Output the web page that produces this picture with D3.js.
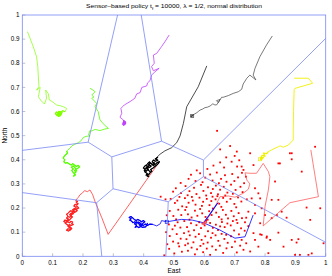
<!DOCTYPE html>
<html><head><meta charset="utf-8">
<script src="https://cdn.jsdelivr.net/npm/d3@7"></script>
<style>
html,body{margin:0;padding:0;background:#fff;}
svg{display:block;font-family:"Liberation Sans",Arial,Helvetica,sans-serif;}
</style></head>
<body><svg id="c" width="332" height="276"></svg>
<script>
// ---- data ----
const xTicks = [0,0.1,0.2,0.3,0.4,0.5,0.6,0.7,0.8,0.9,1];
const yTicks = [0,0.1,0.2,0.3,0.4,0.5,0.6,0.7,0.8,0.9,1];
const xTickLabels = ["0","0.1","0.2","0.3","0.4","0.5","0.6","0.7","0.8","0.9","1"];
const yTickLabels = ["0","0.1","0.2","0.3","0.4","0.5","0.6","0.7","0.8","0.9","1"];

const voronoiEdges = [
 [[0,0.439],[0.217,0.473]],
 [[0.217,0.473],[0.314,1]],
 [[0.217,0.473],[0.295,0.412]],
 [[0.295,0.412],[0.459,0.477]],
 [[0.459,0.477],[0.392,1]],
 [[0.459,0.477],[0.597,0.399]],
 [[0.597,0.399],[1,0.903]],
 [[0.597,0.399],[0.597,0.330]],
 [[0.295,0.412],[0.299,0.280]],
 [[0.299,0.280],[0.245,0.222]],
 [[0,0.264],[0.245,0.222]],
 [[0.245,0.222],[0.262,0]],
 [[0.299,0.280],[0.481,0.226]],
 [[0.481,0.226],[0.473,0]],
 [[0.481,0.226],[0.597,0.330]],
 [[0.597,0.330],[1,0.058]]
];

const green1Path = [[0.017,0.931],[0.036,0.869],[0.047,0.827],[0.051,0.786],[0.053,0.744],[0.055,0.703],[0.047,0.689],[0.059,0.700],[0.053,0.661],[0.062,0.645],[0.073,0.631],[0.080,0.655],[0.077,0.689],[0.086,0.673],[0.089,0.648],[0.099,0.641],[0.113,0.627],[0.125,0.624],[0.135,0.620],[0.146,0.613],[0.141,0.599],[0.133,0.603],[0.127,0.597],[0.121,0.601],[0.116,0.595],[0.122,0.590],[0.117,0.584],[0.124,0.586],[0.129,0.592],[0.126,0.583],[0.119,0.580],[0.113,0.588],[0.118,0.593],[0.112,0.598],[0.109,0.590],[0.115,0.583],[0.122,0.594],[0.128,0.588],[0.131,0.596],[0.125,0.599],[0.119,0.589]];
const green2Path = [[0.223,0.696],[0.232,0.690],[0.240,0.682],[0.229,0.668],[0.236,0.660],[0.229,0.655],[0.245,0.634],[0.240,0.620],[0.250,0.600],[0.256,0.565],[0.270,0.545],[0.284,0.530],[0.270,0.527],[0.256,0.521],[0.240,0.526],[0.228,0.519],[0.223,0.521],[0.218,0.503],[0.223,0.499],[0.210,0.497],[0.201,0.492],[0.193,0.478],[0.185,0.471],[0.172,0.464],[0.163,0.457],[0.157,0.448],[0.150,0.440],[0.146,0.436],[0.149,0.428],[0.143,0.421],[0.138,0.414],[0.135,0.407],[0.140,0.400],[0.137,0.392],[0.142,0.386],[0.149,0.388],[0.155,0.383],[0.161,0.378],[0.166,0.384],[0.172,0.378],[0.178,0.372],[0.184,0.377],[0.189,0.371],[0.183,0.365],[0.177,0.361],[0.172,0.355],[0.177,0.349],[0.171,0.343],[0.175,0.337],[0.169,0.332],[0.173,0.341],[0.167,0.348],[0.163,0.356],[0.168,0.362],[0.162,0.369],[0.167,0.375],[0.173,0.368],[0.179,0.356],[0.174,0.346]];
const magentaPath = [[0.484,0.917],[0.470,0.889],[0.459,0.869],[0.443,0.841],[0.432,0.834],[0.435,0.800],[0.426,0.786],[0.432,0.769],[0.451,0.779],[0.437,0.764],[0.426,0.751],[0.421,0.728],[0.413,0.719],[0.410,0.706],[0.394,0.700],[0.388,0.678],[0.377,0.673],[0.371,0.655],[0.355,0.641],[0.336,0.627],[0.325,0.613],[0.328,0.593],[0.322,0.576],[0.333,0.565],[0.338,0.548],[0.332,0.555],[0.341,0.553],[0.336,0.561],[0.331,0.547],[0.339,0.558],[0.334,0.543],[0.340,0.549],[0.335,0.556]];
const darkGreyPath = [[0.824,0.913],[0.805,0.876],[0.783,0.827],[0.767,0.779],[0.761,0.751],[0.770,0.731],[0.750,0.751],[0.740,0.738],[0.728,0.714],[0.723,0.692],[0.712,0.682],[0.695,0.675],[0.679,0.666],[0.662,0.659],[0.657,0.659],[0.650,0.645],[0.646,0.637],[0.640,0.645],[0.652,0.650],[0.641,0.628],[0.635,0.627],[0.628,0.632],[0.619,0.623],[0.610,0.618],[0.602,0.616],[0.594,0.610],[0.586,0.606],[0.580,0.600],[0.575,0.595],[0.568,0.590],[0.563,0.584],[0.556,0.580],[0.560,0.581]];
const blackPath = [[0.608,0.789],[0.580,0.703],[0.542,0.620],[0.531,0.551],[0.520,0.499],[0.509,0.471],[0.492,0.450],[0.470,0.437],[0.454,0.423],[0.437,0.402],[0.446,0.410],[0.440,0.403],[0.447,0.398],[0.438,0.394],[0.432,0.399],[0.428,0.391],[0.436,0.386],[0.429,0.381],[0.421,0.386],[0.417,0.379],[0.425,0.374],[0.419,0.368],[0.411,0.372],[0.407,0.365],[0.414,0.360],[0.409,0.353],[0.402,0.357],[0.405,0.348],[0.412,0.343],[0.408,0.336],[0.416,0.339],[0.421,0.346],[0.427,0.352],[0.423,0.360],[0.430,0.365],[0.436,0.371],[0.442,0.377],[0.448,0.384],[0.452,0.392],[0.445,0.389],[0.439,0.382],[0.432,0.376],[0.426,0.383],[0.419,0.391],[0.413,0.384],[0.418,0.376],[0.412,0.367],[0.405,0.361],[0.399,0.366],[0.403,0.373],[0.410,0.379],[0.416,0.356],[0.423,0.349],[0.418,0.341],[0.412,0.332],[0.418,0.330]];
const redLeftPath = [[0.448,0.385],[0.283,0.091],[0.262,0.160],[0.240,0.226],[0.232,0.255],[0.223,0.275],[0.215,0.268],[0.205,0.272],[0.198,0.262],[0.190,0.255],[0.185,0.245],[0.180,0.238],[0.176,0.230],[0.182,0.228],[0.178,0.222],[0.184,0.218],[0.180,0.212],[0.174,0.215],[0.170,0.208],[0.176,0.203],[0.182,0.206],[0.186,0.200],[0.180,0.196],[0.172,0.198],[0.166,0.193],[0.170,0.187],[0.164,0.182],[0.168,0.176],[0.160,0.178],[0.156,0.172],[0.162,0.167],[0.156,0.162],[0.150,0.165],[0.146,0.158],[0.152,0.154],[0.147,0.148],[0.140,0.150],[0.137,0.144],[0.143,0.140],[0.150,0.143],[0.156,0.139],[0.160,0.145],[0.166,0.142],[0.163,0.136],[0.168,0.132],[0.161,0.128],[0.155,0.131],[0.150,0.126],[0.154,0.120],[0.160,0.118],[0.156,0.112],[0.150,0.114],[0.146,0.108],[0.152,0.105],[0.158,0.109],[0.163,0.115],[0.158,0.122],[0.152,0.128],[0.146,0.133],[0.141,0.138],[0.147,0.145],[0.155,0.150],[0.160,0.157],[0.165,0.163],[0.160,0.170],[0.166,0.176],[0.172,0.182],[0.168,0.190],[0.175,0.194],[0.181,0.190],[0.176,0.184],[0.158,0.188],[0.152,0.180],[0.146,0.174],[0.150,0.168]];
const bluePath = [[0.761,0.171],[0.734,0.081],[0.701,0.075],[0.651,0.109],[0.597,0.139],[0.615,0.170],[0.635,0.206],[0.645,0.222],[0.625,0.185],[0.605,0.150],[0.597,0.139],[0.560,0.150],[0.525,0.153],[0.476,0.143],[0.459,0.148],[0.455,0.135],[0.443,0.126],[0.430,0.132],[0.420,0.133],[0.412,0.128],[0.405,0.134],[0.398,0.127],[0.392,0.134],[0.386,0.129],[0.389,0.138],[0.382,0.142],[0.376,0.137],[0.371,0.143],[0.365,0.139],[0.360,0.146],[0.354,0.150],[0.359,0.156],[0.352,0.161],[0.358,0.165],[0.364,0.159],[0.369,0.153],[0.375,0.148],[0.381,0.153],[0.387,0.148],[0.393,0.143],[0.399,0.148],[0.404,0.143],[0.398,0.138],[0.391,0.124],[0.384,0.119],[0.378,0.124],[0.372,0.120],[0.377,0.130],[0.370,0.134],[0.376,0.143],[0.383,0.136],[0.395,0.120],[0.407,0.122],[0.413,0.138]];
const yellowPath = [[0.896,0.738],[0.943,0.738],[0.957,0.717],[0.899,0.696],[0.896,0.690],[0.894,0.600],[0.893,0.523],[0.893,0.482],[0.877,0.461],[0.860,0.452],[0.850,0.458],[0.844,0.454],[0.833,0.448],[0.822,0.441],[0.811,0.434],[0.805,0.425],[0.795,0.428],[0.800,0.415],[0.790,0.418],[0.785,0.405],[0.795,0.410],[0.788,0.400],[0.783,0.402]];
const redRightPath = [[0.951,0.441],[0.976,0.247],[0.882,0.222],[0.794,0.126],[0.800,0.206],[0.811,0.275],[0.816,0.330],[0.811,0.351],[0.794,0.385],[0.772,0.344],[0.750,0.344],[0.734,0.346],[0.740,0.316],[0.750,0.300],[0.745,0.278],[0.728,0.261],[0.701,0.245],[0.679,0.250],[0.652,0.247],[0.635,0.206],[0.615,0.165],[0.597,0.139],[0.605,0.145],[0.592,0.135],[0.600,0.132],[0.608,0.142]];

const events = [
[0.522,0.304],[0.556,0.338],[0.571,0.312],[0.548,0.321],[0.586,0.344],[0.603,0.326],[0.619,0.339],[0.594,0.307],[0.627,0.314],
[0.641,0.347],[0.655,0.321],[0.668,0.336],[0.673,0.309],[0.648,0.303],[0.692,0.341],[0.711,0.327],[0.724,0.346],[0.699,0.312],
[0.506,0.282],[0.523,0.262],[0.497,0.268],[0.538,0.291],[0.551,0.270],[0.566,0.284],[0.574,0.258],[0.545,0.253],
[0.589,0.296],[0.597,0.271],[0.612,0.286],[0.622,0.262],[0.606,0.252],[0.628,0.279],[0.638,0.293],[0.652,0.276],[0.664,0.288],[0.676,0.264],[0.645,0.257],[0.669,0.252],
[0.688,0.297],[0.703,0.275],[0.719,0.288],[0.694,0.259],[0.726,0.266],
[0.489,0.238],[0.503,0.221],[0.518,0.246],[0.527,0.207],[0.511,0.231],[0.536,0.241],[0.548,0.222],[0.559,0.246],[0.571,0.214],[0.562,0.231],[0.541,0.204],
[0.584,0.243],[0.596,0.226],[0.608,0.238],[0.617,0.212],[0.627,0.247],[0.592,0.209],[0.623,0.229],[0.637,0.236],[0.649,0.218],[0.662,0.242],[0.674,0.226],[0.656,0.205],[0.643,0.249],
[0.686,0.238],[0.699,0.217],[0.711,0.244],[0.722,0.227],[0.705,0.203],
[0.486,0.188],[0.498,0.167],[0.514,0.193],[0.524,0.171],[0.507,0.153],[0.537,0.192],[0.546,0.174],[0.558,0.161],[0.569,0.189],[0.577,0.168],[0.551,0.152],
[0.586,0.196],[0.593,0.178],[0.604,0.163],[0.616,0.187],[0.624,0.171],[0.611,0.152],[0.628,0.198],[0.639,0.181],[0.648,0.163],[0.661,0.192],[0.671,0.172],[0.657,0.153],[0.678,0.157],
[0.689,0.188],[0.697,0.166],[0.713,0.179],[0.724,0.158],[0.706,0.151],
[0.483,0.132],[0.495,0.112],[0.512,0.141],[0.521,0.119],[0.503,0.127],[0.534,0.146],[0.543,0.121],[0.556,0.137],[0.566,0.108],[0.574,0.129],[0.548,0.103],
[0.583,0.141],[0.589,0.117],[0.601,0.128],[0.612,0.104],[0.619,0.138],[0.628,0.118],[0.606,0.147],[0.638,0.131],[0.645,0.109],[0.658,0.142],[0.667,0.121],[0.676,0.136],[0.652,0.124],
[0.687,0.128],[0.698,0.107],[0.709,0.138],[0.721,0.116],[0.694,0.146],
[0.486,0.084],[0.497,0.061],[0.509,0.092],[0.522,0.073],[0.514,0.054],[0.533,0.096],[0.541,0.071],[0.552,0.087],[0.564,0.058],[0.571,0.081],[0.546,0.053],
[0.582,0.092],[0.591,0.068],[0.603,0.083],[0.611,0.057],[0.622,0.077],[0.627,0.096],[0.597,0.052],[0.637,0.087],[0.646,0.064],[0.657,0.093],[0.666,0.072],[0.677,0.056],[0.672,0.089],
[0.688,0.083],[0.701,0.061],[0.714,0.091],[0.723,0.068],
[0.484,0.031],[0.501,0.012],[0.517,0.041],[0.526,0.019],[0.537,0.046],[0.546,0.023],[0.558,0.036],[0.569,0.008],[0.576,0.029],
[0.587,0.043],[0.596,0.017],[0.608,0.032],[0.619,0.006],[0.626,0.041],[0.638,0.027],[0.651,0.044],[0.662,0.014],[0.673,0.033],
[0.691,0.038],[0.707,0.016],[0.718,0.044],
[0.478,0.050],[0.474,0.100],[0.476,0.170],[0.472,0.236],[0.456,0.247],[0.468,0.004],
[0.575,0.356],[0.610,0.362],[0.630,0.376],[0.652,0.389],[0.652,0.443],[0.685,0.457],[0.700,0.416],[0.715,0.398],[0.672,0.410],[0.642,0.520],[0.690,0.392],[0.665,0.368],[0.708,0.372],
[0.707,0.434],[0.751,0.427],[0.723,0.372],[0.729,0.358],[0.737,0.330],[0.731,0.303],
[0.762,0.378],[0.844,0.385],[0.888,0.427],[0.965,0.454],[0.921,0.351],[0.833,0.310],[0.767,0.282],[0.778,0.261],[0.784,0.240],[0.756,0.240],
[0.740,0.236],[0.844,0.234],[0.822,0.234],[0.767,0.213],[0.789,0.199],[0.745,0.185],[0.738,0.160],[0.734,0.141],
[0.767,0.178],[0.800,0.171],[0.822,0.158],[0.839,0.171],[0.855,0.185],[0.982,0.199],[0.949,0.151],[0.745,0.125],[0.784,0.137],
[0.733,0.106],[0.762,0.096],[0.789,0.089],[0.806,0.082],[0.817,0.068],[0.738,0.054],[0.767,0.068],[0.910,0.071],[0.888,0.068],[0.993,0.054],
[0.729,0.027],[0.751,0.020],[0.778,0.040],[0.811,0.013],[0.861,0.040],[0.899,0.006],[0.943,0.006],
[0.937,0.202],[0.871,0.160],[0.888,0.402],[0.849,0.385],[0.882,0.427],[0.784,0.091],[0.805,0.077],[0.844,0.098],[0.904,0.057],[0.915,0.006],[0.954,0.012]
];

const endMarkers = [
 {p:[0.121,0.590], c:"#80ff00"},
 {p:[0.560,0.581], c:"#404040"},
 {p:[0.476,0.143], c:"#0000ff"},
 {p:[0.783,0.402], c:"#e8e800"}
];

// ---- drawing ----
const svg = d3.select("#c");
const x = d3.scaleLinear().domain([0,1]).range([22.3,325.7]);
const y = d3.scaleLinear().domain([0,1]).range([256.3,15]);
const vColor = "#7888f5";

const g = svg.append("g");
g.selectAll(".xt").data(xTicks).join("line")
 .attr("x1",d=>x(d)).attr("x2",d=>x(d)).attr("y1",y(0)).attr("y2",y(0)-3)
 .attr("stroke","#999").attr("stroke-width",0.6);
g.selectAll(".yt").data(yTicks).join("line")
 .attr("x1",x(0)).attr("x2",x(0)+3).attr("y1",d=>y(d)).attr("y2",d=>y(d))
 .attr("stroke","#999").attr("stroke-width",0.6);

svg.append("g").selectAll("rect").data(events).join("rect")
 .attr("x",d=>x(d[0])-0.9).attr("y",d=>y(d[1])-0.9).attr("width",1.8).attr("height",1.8)
 .attr("fill","#ff0000");

const line = d3.line().x(d=>x(d[0])).y(d=>y(d[1]));
const paths = [
 {d:redLeftPath, c:"#ff2020", w:0.7, k:12},
 {d:redRightPath, c:"#ff4848", w:0.7, k:21},
 {d:green1Path, c:"#80ff00", w:0.7, k:20},
 {d:green2Path, c:"#55ff00", w:0.8, k:27},
 {d:magentaPath, c:"#c040ff", w:0.8, k:23},
 {d:darkGreyPath, c:"#404040", w:0.7, k:30},
 {d:blackPath, c:"#000000", w:0.7, k:9},
 {d:bluePath, c:"#0000ff", w:0.8, k:17},
 {d:yellowPath, c:"#f0f000", w:0.9, k:14}
];
const pg = svg.append("g");
pg.selectAll("path.full").data(paths).join("path").attr("class","full")
 .attr("d",d=>line(d.d)).attr("fill","none")
 .attr("stroke",d=>d.c).attr("stroke-width",d=>d.w).attr("stroke-linejoin","round");
pg.selectAll("path.knot").data(paths).join("path").attr("class","knot")
 .attr("d",d=>line(d.d.slice(d.k))).attr("fill","none")
 .attr("stroke",d=>d.c).attr("stroke-width",1.2).attr("stroke-linejoin","round");

svg.append("g").selectAll("rect").data(endMarkers).join("rect")
 .attr("x",d=>x(d.p[0])-1.5).attr("y",d=>y(d.p[1])-1.5).attr("width",3).attr("height",3)
 .attr("fill","none").attr("stroke",d=>d.c).attr("stroke-width",0.7);

svg.append("g").selectAll("line").data(voronoiEdges).join("line")
 .attr("x1",d=>x(d[0][0])).attr("y1",d=>y(d[0][1]))
 .attr("x2",d=>x(d[1][0])).attr("y2",d=>y(d[1][1]))
 .attr("stroke",vColor).attr("stroke-width",0.8);

svg.append("rect").attr("x",x(0)).attr("y",y(1)).attr("width",x(1)-x(0)).attr("height",y(0)-y(1))
 .attr("fill","none").attr("stroke",vColor).attr("stroke-width",0.8);

svg.append("g").selectAll("text").data(xTicks).join("text")
 .attr("x",d=>x(d)).attr("y",265).attr("text-anchor","middle")
 .attr("font-size",6.3).attr("fill","#000").text((d,i)=>xTickLabels[i]);
svg.append("g").selectAll("text").data(yTicks).join("text")
 .attr("x",19.5).attr("y",d=>y(d)+2.2).attr("text-anchor","end")
 .attr("font-size",6.3).attr("fill","#000").text((d,i)=>yTickLabels[i]);

svg.append("text").attr("x",x(0.5)).attr("y",272.5).attr("text-anchor","middle")
 .attr("font-size",6.5).text("East");
svg.append("text").attr("transform","translate(7,"+y(0.5)+") rotate(-90)")
 .attr("text-anchor","middle").attr("font-size",6.5).text("North");

const t = svg.append("text").attr("x",x(0.5)).attr("y",8.3).attr("text-anchor","middle")
 .attr("font-size",6.2).attr("textLength",176).attr("lengthAdjust","spacingAndGlyphs");
t.append("tspan").text("Sensor\u2013based policy t");
t.append("tspan").attr("font-size",4.3).attr("dy",1.5).text("f");
t.append("tspan").attr("dy",-1.5).text(" = 10000, \u03bb = 1/2, normal distribution");
</script></body></html>
